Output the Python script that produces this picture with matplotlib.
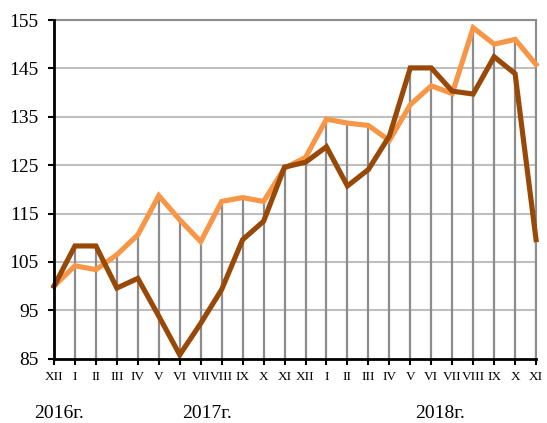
import numpy as np
import matplotlib.pyplot as plt

plt.rcParams['font.family'] = ['Liberation Serif', 'DejaVu Serif']

months = ["XII", "I", "II", "III", "IV", "V", "VI", "VII", "VIII", "IX", "X", "XI",
          "XII", "I", "II", "III", "IV", "V", "VI", "VII", "VIII", "IX", "X", "XI"]
years = ["2016г.", "2017г.", "2018г."]
year_pos = [0.25, 7.3, 18.4]

dark = [100.0, 108.3, 108.3, 99.6, 101.6, 93.8, 85.8, 92.3, 99.3, 109.6, 113.4, 124.6,
        125.6, 128.8, 120.7, 124.1, 131.0, 145.1, 145.1, 140.3, 139.7, 147.4, 143.9, 109.6]
light = [100.0, 104.2, 103.4, 106.5, 110.6, 118.7, 113.7, 109.2, 117.5, 118.3, 117.5, 124.4,
         126.6, 134.5, 133.7, 133.2, 130.1, 137.5, 141.4, 139.8, 153.4, 150.0, 151.0, 145.8]

yticks = [85, 95, 105, 115, 125, 135, 145, 155]

fig = plt.figure(figsize=(5.47, 4.23), dpi=100)
ax = fig.add_axes([0.0987, 0.152, 0.8813, 0.8007])

x = np.arange(len(months))
top = np.maximum(dark, light)

for yv in yticks[1:]:
    ax.axhline(yv, color='#BFBFBF', lw=1.5, zorder=1)
ax.vlines(x, 85, top, color='#8C8C8C', lw=1.6, zorder=2)

ax.plot(x, light, color='#F79646', lw=3.7, zorder=3, clip_on=False, solid_joinstyle='miter')
ax.plot(x, dark, color='#984807', lw=3.7, zorder=4, clip_on=False, solid_joinstyle='miter')

ax.set_xlim(0, len(months) - 1)
ax.set_ylim(85, 155)
ax.set_yticks(yticks)
ax.set_xticks(x)
ax.set_xticklabels(months, fontsize=9.5)
ax.tick_params(axis='y', labelsize=14, length=4, width=1.5, pad=7)
ax.tick_params(axis='x', length=4, width=1.5, pad=5)

for s in ['left', 'bottom']:
    ax.spines[s].set_linewidth(2)
    ax.spines[s].set_color('black')
    ax.spines[s].set_zorder(5)
for s in ['top', 'right']:
    ax.spines[s].set_color('#8C8C8C')
    ax.spines[s].set_linewidth(1.5)

for yp, yl in zip(year_pos, years):
    ax.text(yp, -0.163, yl, transform=ax.get_xaxis_transform(), ha='center', va='center', fontsize=14)

fig.savefig('out.png', dpi=100)
